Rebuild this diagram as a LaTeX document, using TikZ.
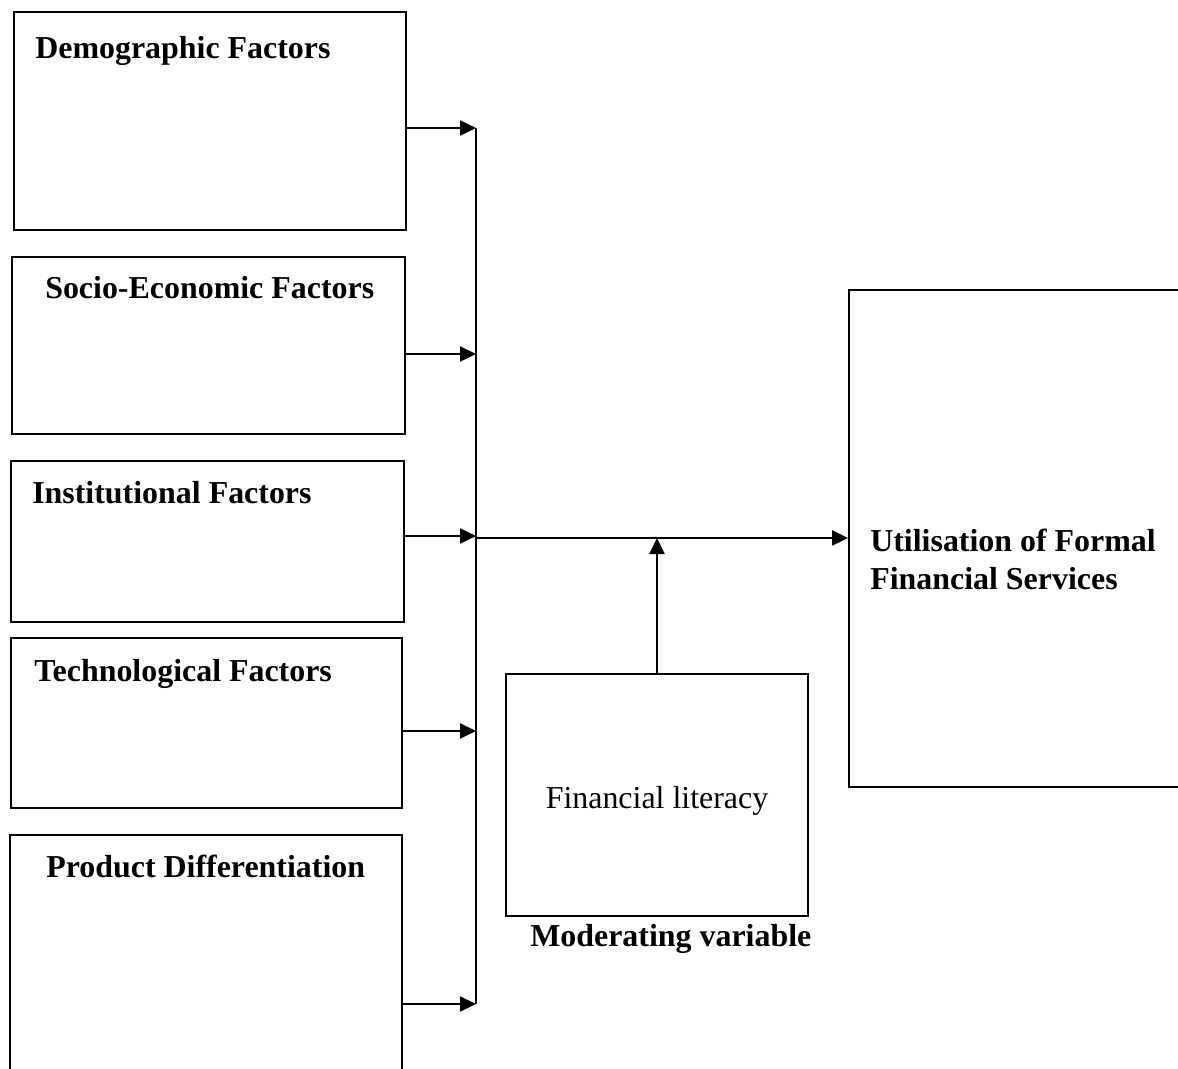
\documentclass[tikz,border=0pt]{standalone}
\usepackage{fontspec}
\setmainfont{Liberation Serif}
\usetikzlibrary{arrows.meta}
\begin{document}
\begin{tikzpicture}[
        x=0.025cm, y=-0.025cm,
        box/.style={rectangle, draw=black, line width=1.3pt, inner sep=0pt},
        title/.style={anchor=base west, inner sep=0pt, font=\fontsize{22.7}{27}\selectfont\bfseries},
        plain/.style={anchor=base, inner sep=0pt, font=\fontsize{22.7}{27}\selectfont},
        arrow/.style={-{Triangle[length=0.4cm, width=0.38cm]}, line width=1pt},
        bus/.style={line width=1pt}
    ]
    \clip (0,0) rectangle (1178,1069);

    % independent variables
    \node[box, minimum width=9.8cm, minimum height=5.45cm] (demo) at (210,121) {};
    \node[box, minimum width=9.825cm, minimum height=4.425cm] (socio) at (208.5,345.5) {};
    \node[box, minimum width=9.825cm, minimum height=4.025cm] (inst) at (207.5,541.5) {};
    \node[box, minimum width=9.775cm, minimum height=4.25cm] (tech) at (206.5,723) {};
    \node[box, minimum width=9.8cm, minimum height=6cm] (prod) at (206,955) {};

    \node[title] (demot) at (35,59) {Demographic Factors};
    \node[title] (sociot) at (45,299) {Socio-Economic Factors};
    \node[title] (instt) at (32,503) {Institutional Factors};
    \node[title] (techt) at (34,681) {Technological Factors};
    \node[title] (prodt) at (46,877) {Product Differentiation};

    % dependent variable
    \node[box, minimum width=8.4cm, minimum height=12.425cm] (util) at (1017,538.5) {};
    \node[title, align=left] (utilt) at (870,589) {Utilisation of Formal\\Financial Services};

    % moderating variable
    \node[box, line width=1pt, minimum width=7.55cm, minimum height=6.05cm] (fin) at (657,795) {};
    \node[plain] (fint) at (657,808) {Financial literacy};
    \node[title] (modt) at (530,946) {Moderating variable};

    % bus
    \coordinate (j1) at (476,128);
    \coordinate (j2) at (476,354);
    \coordinate (j3) at (476,536);
    \coordinate (j4) at (476,731);
    \coordinate (j5) at (476,1004);
    \coordinate (jm) at (476,538);
    \coordinate (jf) at (657,538);

    \draw[arrow] (demo.east |- j1) -- (j1);
    \draw[arrow] (socio.east |- j2) -- (j2);
    \draw[arrow] (inst.east |- j3) -- (j3);
    \draw[arrow] (tech.east |- j4) -- (j4);
    \draw[arrow] (prod.east |- j5) -- (j5);
    \draw[bus] (j1) -- (j5);
    \draw[arrow] (jm) -- (util.west |- jm);
    \draw[arrow] (fin.north) -- (jf);

\end{tikzpicture}
\end{document}
